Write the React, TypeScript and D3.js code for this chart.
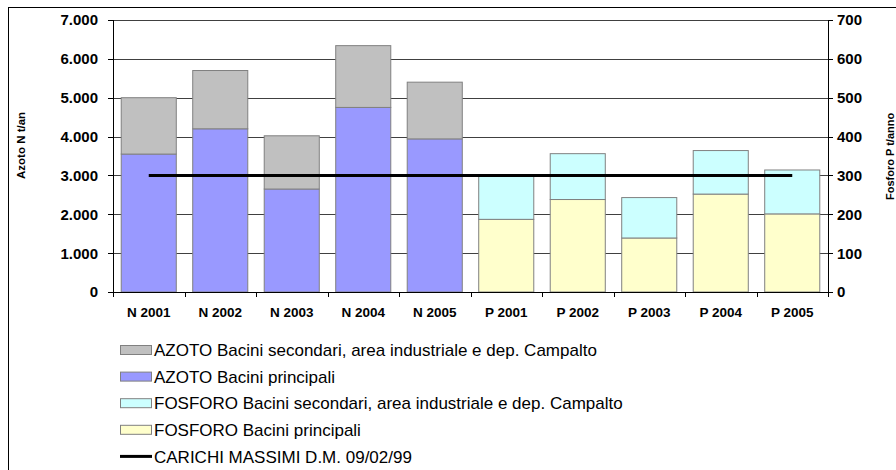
import React from 'react';
import * as d3 from 'd3';

// categories on the x axis
const categories = ['N 2001', 'N 2002', 'N 2003', 'N 2004', 'N 2005', 'P 2001', 'P 2002', 'P 2003', 'P 2004', 'P 2005'];
const azotoCats = categories.slice(0, 5);
const fosforoCats = categories.slice(5);

// t/anno values
const azotoPrincipali = [3550, 4200, 2650, 4750, 3940];
const azotoSecondari = [1450, 1500, 1370, 1590, 1460];
const fosforoPrincipali = [187, 238, 139, 252, 201];
const fosforoSecondari = [111, 118, 104, 112, 113];
const carichiAzoto = 3000;
const carichiFosforo = 300;

const leftTicks = [0, 1000, 2000, 3000, 4000, 5000, 6000, 7000];
const rightTicks = [0, 100, 200, 300, 400, 500, 600, 700];

const legendItems = [
  { label: 'AZOTO Bacini secondari, area industriale e dep. Campalto', fill: '#C0C0C0' },
  { label: 'AZOTO Bacini principali', fill: '#9999FF' },
  { label: 'FOSFORO Bacini secondari, area industriale e dep. Campalto', fill: '#CCFFFF' },
  { label: 'FOSFORO Bacini principali', fill: '#FFFFCC' },
  { label: 'CARICHI MASSIMI D.M. 09/02/99', fill: null },
];

const FONT = '"Liberation Sans", Arial, sans-serif';
const fmt = d3.formatLocale({ decimal: ',', thousands: '.', grouping: [3], currency: ['', ''] }).format(',d');

export default function App() {
  const width = 896;
  const height = 470;
  const left = 113;
  const right = 828;
  const top = 20;
  const bottom = 292;

  const x = d3.scaleBand().domain(categories).range([left, right]).paddingInner(0.23).paddingOuter(0.115);
  const step = x.step();
  const yL = d3.scaleLinear().domain([0, 7000]).range([bottom, top]);
  const yR = d3.scaleLinear().domain([0, 700]).range([bottom, top]);

  const nStack = d3.stack().keys(['p', 's'])(azotoCats.map((c, i) => ({ c, p: azotoPrincipali[i], s: azotoSecondari[i] })));
  const pStack = d3.stack().keys(['p', 's'])(fosforoCats.map((c, i) => ({ c, p: fosforoPrincipali[i], s: fosforoSecondari[i] })));

  const boundaries = d3.range(categories.length + 1).map((i) => left + i * step);

  const linePts = categories.map((c, i) => [
    x(c) + x.bandwidth() / 2,
    i < 5 ? yL(carichiAzoto) : yR(carichiFosforo),
  ]);
  const line = d3.line();

  const rect = (s, yScale, fill) =>
    s.map((d, i) => (
      <rect key={i} x={x(d.data.c)} y={yScale(d[1])} width={x.bandwidth()} height={yScale(d[0]) - yScale(d[1])}
        fill={fill} stroke="#808080" strokeWidth={1} />
    ));

  return (
    <svg width={width} height={height} style={{ position: 'absolute', left: 0, top: 0, background: '#fff' }} fontFamily={FONT}>
      <defs>
        <clipPath id="clipL"><rect x={0} y={112} width={60} height={90} /></clipPath>
      </defs>
      <rect x={8.5} y={7.5} width={900} height={470} fill="#fff" stroke="#000" strokeWidth={1} />

      {/* gridlines */}
      {leftTicks.slice(1).map((t) => (
        <line key={t} x1={left} x2={right} y1={Math.round(yL(t)) + 0.5} y2={Math.round(yL(t)) + 0.5} stroke="#404040" strokeWidth={1} />
      ))}

      {/* bars */}
      {rect(nStack[0], yL, '#9999FF')}
      {rect(nStack[1], yL, '#C0C0C0')}
      {rect(pStack[0], yR, '#FFFFCC')}
      {rect(pStack[1], yR, '#CCFFFF')}

      <path d={line(linePts)} fill="none" stroke="#000" strokeWidth={3} />

      {/* left axis */}
      <line x1={left + 0.5} x2={left + 0.5} y1={top} y2={bottom} stroke="#000" />
      {leftTicks.map((t) => (
        <g key={t}>
          <line x1={left - 5} x2={left} y1={Math.round(yL(t)) + 0.5} y2={Math.round(yL(t)) + 0.5} stroke="#000" />
          <text x={98} y={yL(t)} dy="0.36em" textAnchor="end" fontSize={15} fontWeight="bold">{fmt(t)}</text>
        </g>
      ))}
      {/* right axis */}
      <line x1={right + 0.5} x2={right + 0.5} y1={top} y2={bottom} stroke="#000" />
      {rightTicks.map((t) => (
        <g key={t}>
          <line x1={right} x2={right + 5} y1={Math.round(yR(t)) + 0.5} y2={Math.round(yR(t)) + 0.5} stroke="#000" />
          <text x={837} y={yR(t)} dy="0.36em" textAnchor="start" fontSize={15} fontWeight="bold">{fmt(t)}</text>
        </g>
      ))}
      {/* bottom axis */}
      <line x1={left} x2={right + 1} y1={bottom + 0.5} y2={bottom + 0.5} stroke="#000" />
      {boundaries.map((b, i) => (
        <line key={i} x1={Math.round(b) + 0.5} x2={Math.round(b) + 0.5} y1={bottom} y2={bottom + 5} stroke="#000" />
      ))}
      {categories.map((c) => (
        <text key={c} x={x(c) + x.bandwidth() / 2} y={312} dy="0.36em" textAnchor="middle" fontSize={13.5} fontWeight="bold">{c}</text>
      ))}

      {/* axis titles */}
      <g clipPath="url(#clipL)">
        <text transform="translate(25,179) rotate(-90)" fontSize={11.5} fontWeight="bold">Azoto N t/anno</text>
      </g>
      <text transform="translate(894,200) rotate(-90)" fontSize={11} fontWeight="bold">Fosforo P t/anno</text>

      {/* legend */}
      {legendItems.map((it, i) => {
        const cy = 350 + i * 26.6;
        return (
          <g key={it.label}>
            {it.fill ? (
              <rect x={120.5} y={cy - 4.5} width={31} height={9} fill={it.fill} stroke="#808080" />
            ) : (
              <line x1={120} x2={152} y1={cy} y2={cy} stroke="#000" strokeWidth={3} />
            )}
            <text x={154} y={cy} dy="0.36em" fontSize={17}>{it.label}</text>
          </g>
        );
      })}
    </svg>
  );
}
